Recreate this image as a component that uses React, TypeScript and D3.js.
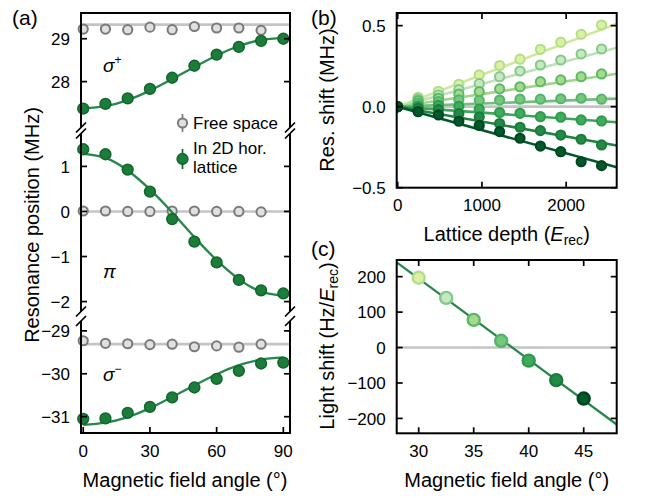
import React from 'react';
import * as d3 from 'd3';

const W = 649;
const H = 498;
const FONT = '"Liberation Sans", Arial, Helvetica, sans-serif';

// ---- panel (a) data ----
const angles = [0, 10, 20, 30, 40, 50, 60, 70, 80, 90];
const freeAngles = [0, 10, 20, 30, 40, 50, 60, 70, 80];

const freeSigmaPlus = [29.225, 29.225, 29.21, 29.27, 29.21, 29.285, 29.25, 29.25, 29.195];
const latSigmaPlus = [27.37, 27.48, 27.61, 27.83, 28.09, 28.37, 28.63, 28.81, 28.95, 29.0];
const fitSigmaPlus = [27.38, 27.43, 27.57, 27.79, 28.06, 28.34, 28.61, 28.83, 28.97, 29.02];
const refSigmaPlus = 29.33;

const freePi = [0.01, 0.01, 0, 0, 0.01, 0.01, 0, 0, -0.01];
const latPi = [1.38, 1.27, 0.93, 0.44, -0.17, -0.67, -1.13, -1.52, -1.75, -1.82];
const fitPi = [1.28, 1.19, 0.91, 0.49, -0.02, -0.57, -1.08, -1.5, -1.78, -1.87];
const refPi = 0;

const freeSigmaMinus = [-29.23, -29.29, -29.3, -29.32, -29.31, -29.37, -29.35, -29.38, -29.31];
const latSigmaMinus = [-31.05, -31.04, -30.91, -30.77, -30.55, -30.32, -30.12, -29.93, -29.76, -29.74];
const fitSigmaMinus = [-31.19, -31.14, -31.01, -30.8, -30.54, -30.27, -30.01, -29.8, -29.67, -29.62];
const refSigmaMinus = -29.31;

const angleTicks = [0, 30, 60, 90];
const topTicks = [28, 29];
const midTicks = [-2, -1, 0, 1];
const botTicks = [-31, -30, -29];

// ---- panel (b) data ----
const depths = [0, 242, 484, 726, 968, 1210, 1452, 1694, 1936, 2178, 2420];
const shift30 = [0, 0.058, 0.095, 0.138, 0.196, 0.254, 0.293, 0.354, 0.398, 0.447, 0.504];
const shift325 = [0, 0.047, 0.072, 0.105, 0.142, 0.185, 0.22, 0.257, 0.288, 0.325, 0.356];
const shift35 = [0, 0.036, 0.052, 0.077, 0.093, 0.11, 0.123, 0.154, 0.165, 0.185, 0.202];
const shift375 = [0, 0.021, 0.031, 0.042, 0.039, 0.041, 0.046, 0.046, 0.049, 0.052, 0.046];
const shift40 = [0, 0.004, 0.008, 0.002, -0.015, -0.036, -0.041, -0.062, -0.065, -0.082, -0.088];
const shift425 = [0, -0.01, -0.018, -0.043, -0.063, -0.104, -0.127, -0.148, -0.175, -0.201, -0.236];
const shift45 = [0, -0.031, -0.051, -0.09, -0.116, -0.154, -0.195, -0.243, -0.278, -0.34, -0.364];
const depthTicks = [0, 1000, 2000];
const shiftTicks = [-0.5, 0, 0.5];

// ---- panel (c) data ----
const lightAngles = [30, 32.5, 35, 37.5, 40, 42.5, 45];
const lightShift = [197, 140, 78, 19, -37, -92, -144];
const lightAngleTicks = [30, 35, 40, 45];
const lightTicks = [-200, -100, 0, 100, 200];

const fills = ['#dcf0a0', '#c8e8c2', '#a5da8e', '#78c67c', '#41ab5d', '#238b45', '#00582b'];
const strokes = ['#b0de8c', '#82c98a', '#5cb865', '#52b56e', '#2e9a4e', '#1a7a3b', '#004521'];
const lineColors = ['#cfe99a', '#bde2b6', '#9fd68a', '#6fc07a', '#3da55a', '#1f8441', '#00582b'];

const GREEN_FILL = '#1c7d3a';
const GREEN_EDGE = '#12652c';
const GREEN_LINE = '#24884a';
const GRAY_FILL = '#e0e0e0';
const GRAY_EDGE = '#7a7a7a';
const REF_GRAY = '#c4c4c4';
const TICK = 6;
const SPINE = 2;
const TICK_FS = 17;
const LABEL_FS = 20;

const fmt = (v: number) => (v < 0 ? '\u2212' + Math.abs(v) : String(v));
const fmt1 = (v: number) => (v < 0 ? '\u2212' + Math.abs(v).toFixed(1) : v.toFixed(1));

// ---------- panel (a) ----------
const aX = d3.scaleLinear().domain([-1, 93]).range([81, 290]);
const sections = [
  { y: d3.scaleLinear().domain([26.93, 29.6]).range([127.5, 13]), ticks: topTicks, free: freeSigmaPlus, lat: latSigmaPlus, fit: fitSigmaPlus, ref: refSigmaPlus },
  { y: d3.scaleLinear().domain([-2.22, 1.73]).range([311.5, 133.5]), ticks: midTicks, free: freePi, lat: latPi, fit: fitPi, ref: refPi },
  { y: d3.scaleLinear().domain([-31.38, -28.77]).range([433, 321]), ticks: botTicks, free: freeSigmaMinus, lat: latSigmaMinus, fit: fitSigmaMinus, ref: refSigmaMinus },
];

function PanelA() {
  const [x0, x1] = aX.range();
  return (
    <g>
      {sections.map((s, si) => {
        const [yb, yt] = s.y.range();
        const fitLine = d3.line<number>().x((_, i) => aX(angles[i])).y((d) => s.y(d)).curve(d3.curveNatural);
        return (
          <g key={si}>
            <line x1={x0} x2={x1} y1={s.y(s.ref)} y2={s.y(s.ref)} stroke={REF_GRAY} strokeWidth={2.6} />
            {s.free.map((v, i) => (
              <circle key={i} cx={aX(freeAngles[i])} cy={s.y(v)} r={4.6} fill={GRAY_FILL} stroke={GRAY_EDGE} strokeWidth={2} />
            ))}
            <path d={fitLine(s.fit) || ''} fill="none" stroke={GREEN_LINE} strokeWidth={2.3} />
            {s.lat.map((v, i) => (
              <circle key={i} cx={aX(angles[i])} cy={s.y(v)} r={5.4} fill={GREEN_FILL} stroke={GREEN_EDGE} strokeWidth={1.5} />
            ))}
            {/* spines */}
            <line x1={x0} x2={x0} y1={yt} y2={yb} stroke="#000" strokeWidth={SPINE} />
            <line x1={x1} x2={x1} y1={yt} y2={yb} stroke="#000" strokeWidth={SPINE} />
            {s.ticks.map((t) => (
              <g key={t}>
                <line x1={x0} x2={x0 + TICK} y1={s.y(t)} y2={s.y(t)} stroke="#000" strokeWidth={1.7} />
                <line x1={x1} x2={x1 - TICK} y1={s.y(t)} y2={s.y(t)} stroke="#000" strokeWidth={1.7} />
                <text x={x0 - 11} y={s.y(t)} dy="0.36em" textAnchor="end" fontSize={TICK_FS}>{fmt(t)}</text>
              </g>
            ))}
            {/* break marks */}
            {si > 0 && [x0, x1].map((bx) => (
              <line key={'t' + bx} x1={bx - 5} y1={yt + 5} x2={bx + 5} y2={yt - 5} stroke="#000" strokeWidth={1.7} />
            ))}
            {si < 2 && [x0, x1].map((bx) => (
              <line key={'b' + bx} x1={bx - 5} y1={yb + 5} x2={bx + 5} y2={yb - 5} stroke="#000" strokeWidth={1.7} />
            ))}
          </g>
        );
      })}
      <line x1={x0 - 1} x2={x1 + 1} y1={13} y2={13} stroke="#000" strokeWidth={SPINE} />
      <line x1={x0 - 1} x2={x1 + 1} y1={433} y2={433} stroke="#000" strokeWidth={SPINE} />
      {angleTicks.map((t) => (
        <g key={t}>
          <line x1={aX(t)} x2={aX(t)} y1={433} y2={433 - TICK} stroke="#000" strokeWidth={1.7} />
          <text x={aX(t)} y={456.5} textAnchor="middle" fontSize={TICK_FS}>{t}</text>
        </g>
      ))}
      <text x={185} y={486.5} textAnchor="middle" fontSize={LABEL_FS}>Magnetic field angle (°)</text>
      <text transform="translate(38.5,225) rotate(-90)" textAnchor="middle" fontSize={LABEL_FS}>Resonance position (MHz)</text>
      <text x={12} y={25} fontSize={21}>(a)</text>
      {/* sublevel labels */}
      <text x={103} y={72} fontSize={19} fontStyle="italic">σ<tspan dy={-8} fontSize={12} fontStyle="normal">+</tspan></text>
      <text x={103} y={278} fontSize={19} fontStyle="italic">π</text>
      <text x={103} y={381} fontSize={19} fontStyle="italic">σ<tspan dy={-8} fontSize={12} fontStyle="normal">−</tspan></text>
      {/* legend */}
      <line x1={182.5} x2={182.5} y1={114} y2={132} stroke={GRAY_EDGE} strokeWidth={1.7} />
      <circle cx={182.5} cy={123} r={4.6} fill={GRAY_FILL} stroke={GRAY_EDGE} strokeWidth={2} />
      <text x={193} y={128.5} fontSize={17}>Free space</text>
      <line x1={182.5} x2={182.5} y1={149} y2={169} stroke={GREEN_EDGE} strokeWidth={1.7} />
      <circle cx={182.5} cy={159} r={5.4} fill={GREEN_FILL} stroke={GREEN_EDGE} strokeWidth={1.5} />
      <text x={193} y={154} fontSize={17}>In 2D hor.</text>
      <text x={193} y={173} fontSize={17}>lattice</text>
    </g>
  );
}

// ---------- shared frame ----------
function Frame({ x, y, xTicks, yTicks, yFmt, xLabelY }: any) {
  const [x0, x1] = x.range();
  const [y0, y1] = y.range();
  return (
    <g>
      <rect x={x0} y={y1} width={x1 - x0} height={y0 - y1} fill="none" stroke="#000" strokeWidth={SPINE} />
      {xTicks.map((t: number) => (
        <g key={'x' + t}>
          <line x1={x(t)} x2={x(t)} y1={y0} y2={y0 - TICK} stroke="#000" strokeWidth={1.7} />
          <line x1={x(t)} x2={x(t)} y1={y1} y2={y1 + TICK} stroke="#000" strokeWidth={1.7} />
          <text x={x(t)} y={xLabelY} textAnchor="middle" fontSize={TICK_FS}>{t}</text>
        </g>
      ))}
      {yTicks.map((t: number) => (
        <g key={'y' + t}>
          <line x1={x0} x2={x0 + TICK} y1={y(t)} y2={y(t)} stroke="#000" strokeWidth={1.7} />
          <line x1={x1} x2={x1 - TICK} y1={y(t)} y2={y(t)} stroke="#000" strokeWidth={1.7} />
          <text x={x0 - 11} y={y(t)} dy="0.36em" textAnchor="end" fontSize={TICK_FS}>{yFmt(t)}</text>
        </g>
      ))}
    </g>
  );
}

// ---------- panel (b) ----------
const bX = d3.scaleLinear().domain([-12, 2600]).range([396.7, 616.7]);
const bY = d3.scaleLinear().domain([-0.5, 0.578]).range([187.7, 13]);
const shiftSeries = [shift30, shift325, shift35, shift375, shift40, shift425, shift45];

function PanelB() {
  const [x0, x1] = bX.range();
  const xEnd = bX.domain()[1];
  return (
    <g>
      <defs>
        <clipPath id="clipB">
          <rect x={x0} y={bY.range()[1]} width={x1 - x0} height={bY.range()[0] - bY.range()[1]} />
        </clipPath>
      </defs>
      <g clipPath="url(#clipB)">
        <line x1={x0} x2={x1} y1={bY(0)} y2={bY(0)} stroke={REF_GRAY} strokeWidth={2.6} />
        {lightShift.map((s, i) => (
          <line key={i} x1={bX(0)} y1={bY(0)} x2={bX(xEnd)} y2={bY((s * xEnd) / 1e6)} stroke={lineColors[i]} strokeWidth={2.6} />
        ))}
        {shiftSeries.map((ser, si) => (
          <g key={si}>
            {ser.map((v, i) => (
              <circle key={i} cx={bX(depths[i])} cy={bY(v)} r={4.6} fill={fills[si]} stroke={strokes[si]} strokeWidth={2} />
            ))}
          </g>
        ))}
      </g>
      <Frame x={bX} y={bY} xTicks={depthTicks} yTicks={shiftTicks} yFmt={fmt1} xLabelY={210.5} />
      <text x={506.7} y={240.5} textAnchor="middle" fontSize={LABEL_FS}>
        Lattice depth (<tspan fontStyle="italic">E</tspan><tspan dy={4} fontSize={14}>rec</tspan><tspan dy={-4}>)</tspan>
      </text>
      <text transform="translate(334,100) rotate(-90)" textAnchor="middle" fontSize={LABEL_FS}>Res. shift (MHz)</text>
      <text x={311} y={25} fontSize={21}>(b)</text>
    </g>
  );
}

// ---------- panel (c) ----------
const cX = d3.scaleLinear().domain([28, 48]).range([396.7, 616.7]);
const cY = d3.scaleLinear().domain([-242, 247]).range([433.3, 260]);

function PanelC() {
  const [x0, x1] = cX.range();
  const mx = d3.mean(lightAngles) as number;
  const my = d3.mean(lightShift) as number;
  const slope =
    d3.sum(lightAngles.map((a, i) => (a - mx) * (lightShift[i] - my))) /
    d3.sum(lightAngles.map((a) => (a - mx) ** 2));
  const [d0, d1] = cX.domain();
  return (
    <g>
      <defs>
        <clipPath id="clipC">
          <rect x={x0} y={cY.range()[1]} width={x1 - x0} height={cY.range()[0] - cY.range()[1]} />
        </clipPath>
      </defs>
      <g clipPath="url(#clipC)">
        <line x1={x0} x2={x1} y1={cY(0)} y2={cY(0)} stroke={REF_GRAY} strokeWidth={2.6} />
        <line x1={cX(d0)} y1={cY(my + slope * (d0 - mx))} x2={cX(d1)} y2={cY(my + slope * (d1 - mx))} stroke={GREEN_LINE} strokeWidth={2.3} />
        {lightShift.map((v, i) => (
          <circle key={i} cx={cX(lightAngles[i])} cy={cY(v)} r={6} fill={fills[i]} stroke={strokes[i]} strokeWidth={2.4} />
        ))}
      </g>
      <Frame x={cX} y={cY} xTicks={lightAngleTicks} yTicks={lightTicks} yFmt={fmt} xLabelY={456.5} />
      <text x={506.7} y={486.5} textAnchor="middle" fontSize={LABEL_FS}>Magnetic field angle (°)</text>
      <text transform="translate(334,346) rotate(-90)" textAnchor="middle" fontSize={LABEL_FS}>
        Light shift (Hz/<tspan fontStyle="italic">E</tspan><tspan dy={4} fontSize={14}>rec</tspan><tspan dy={-4}>)</tspan>
      </text>
      <text x={311} y={256} fontSize={21}>(c)</text>
    </g>
  );
}

export default function App() {
  return (
    <svg width={W} height={H} style={{ position: 'absolute', left: 0, top: 0, background: '#fff' }} fontFamily={FONT}>
      <PanelA />
      <PanelB />
      <PanelC />
    </svg>
  );
}
